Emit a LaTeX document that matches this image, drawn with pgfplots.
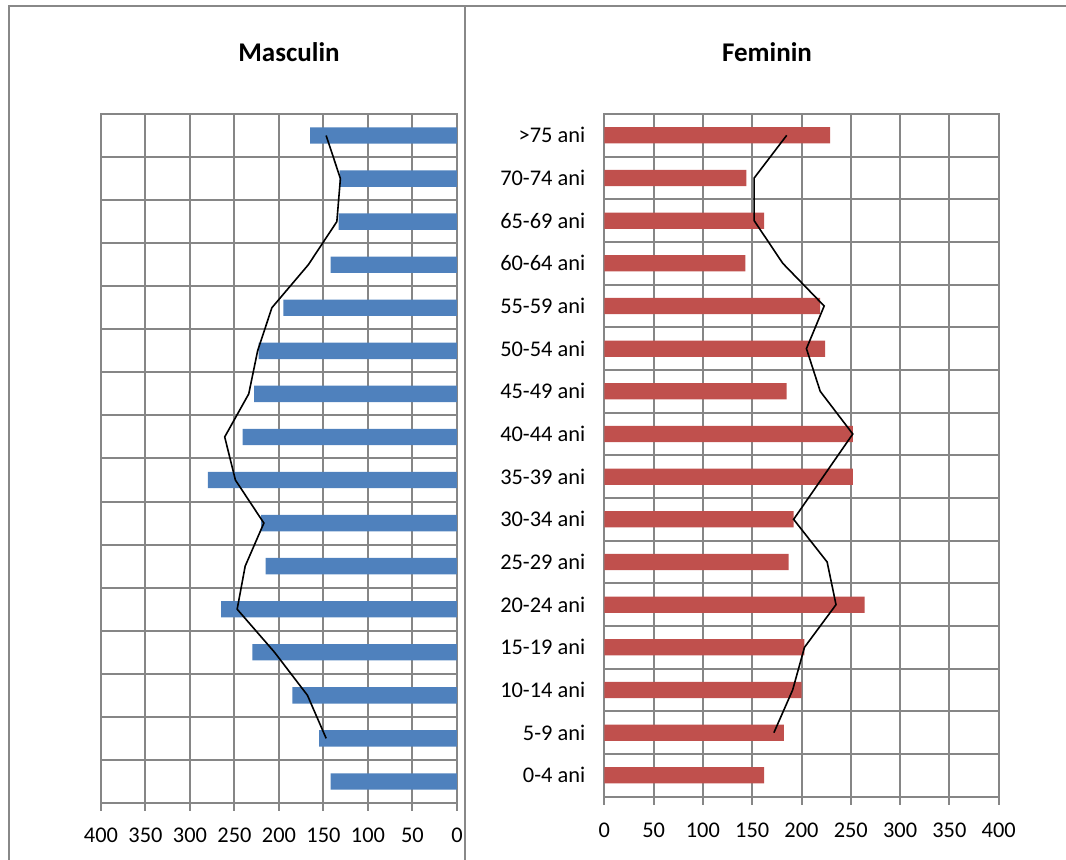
\documentclass[border=0pt]{standalone}
\usepackage{fontspec}
\setmainfont{Carlito}
\usepackage{pgfplots}
\pgfplotsset{compat=1.18}
\definecolor{gridgray}{RGB}{134,134,134}
\definecolor{framegray}{RGB}{136,136,136}
\definecolor{mblue}{RGB}{79,129,189}
\definecolor{fred}{RGB}{192,80,77}
\pgfplotsset{
  pyr/.style={
    scale only axis,
    anchor=south west,
    xmin=0, xmax=400, xtick={0,50,...,400},
    ymin=-0.5, ymax=15.5,
    ytick={0,...,15},
    minor ytick={-0.5,0.5,...,15.5},
    xmajorgrids=true, ymajorgrids=false, yminorgrids=true,
    major grid style={gridgray, line width=1pt},
    minor grid style={gridgray, line width=1pt},
    axis line style={gridgray, line width=1pt},
    xtick style={gridgray, line width=1pt},
    ytick style={draw=none},
    minor tick style={gridgray, line width=1pt},
    major tick length=4pt,
    minor tick length=3pt,
    tick align=outside,
    xtick pos=bottom,
    /pgf/number format/assume math mode=true,
    tick label style={font=\fontsize{11.2}{13}\selectfont, text=black},
  }
}
\begin{document}
\begin{tikzpicture}
\path[use as bounding box] (0,0) rectangle (533pt,430pt);
% Masculin
\begin{axis}[pyr,
  at={(50.5pt,28.5pt)}, width=178pt, height=344.5pt,
  x dir=reverse,
  yticklabels={},
  ytick pos=left,
  xticklabel style={yshift=-5pt},
]
\addplot[xbar, bar width=0.38, fill=mblue, draw=none] coordinates {
(142,0) (155,1) (185,2) (230,3) (265,4) (215,5) (220,6) (280,7)
(241,8) (228,9) (223,10) (195,11) (142,12) (133,13) (132,14) (165,15)};
\addplot[black, line width=0.8pt, no marks] coordinates {
(147,1) (168,2) (205,3) (247,4) (238,5) (217,6) (249,7) (261,8)
(234,9) (224,10) (208,11) (167,12) (135,13) (131,14) (147,15)};
\end{axis}
% Feminin
\begin{axis}[pyr,
  at={(302.15pt,31.65pt)}, width=197.2pt, height=341.35pt,
  yticklabels={0-4 ani,5-9 ani,10-14 ani,15-19 ani,20-24 ani,25-29 ani,30-34 ani,35-39 ani,40-44 ani,45-49 ani,50-54 ani,55-59 ani,60-64 ani,65-69 ani,70-74 ani,>75 ani},
  ytick pos=left,
  xticklabel style={yshift=-5.5pt},
  yticklabel style={xshift=-2pt},
]
\addplot[xbar, bar width=0.38, fill=fred, draw=none] coordinates {
(162,0) (182,1) (200,2) (203,3) (264,4) (187,5) (192,6) (252,7)
(252,8) (185,9) (224,10) (219,11) (143,12) (162,13) (144,14) (229,15)};
\addplot[black, line width=0.8pt, no marks] coordinates {
(172,1) (191,2) (203,3) (235,4) (226,5) (192,6) (222,7) (252,8)
(219,9) (205,10) (223,11) (181,12) (152,13) (152,14) (185,15)};
\end{axis}
\node[font=\bfseries\fontsize{13.5}{16}\selectfont] at (144.5pt,404pt) {Masculin};
\node[font=\bfseries\fontsize{13.5}{16}\selectfont] at (383.5pt,404pt) {Feminin};
\draw[framegray, line width=1pt] (4.5pt,0) -- (4.5pt,426.75pt) -- (533pt,426.75pt);
\draw[framegray, line width=1pt] (232.5pt,0) -- (232.5pt,426.75pt);
\end{tikzpicture}
\end{document}
